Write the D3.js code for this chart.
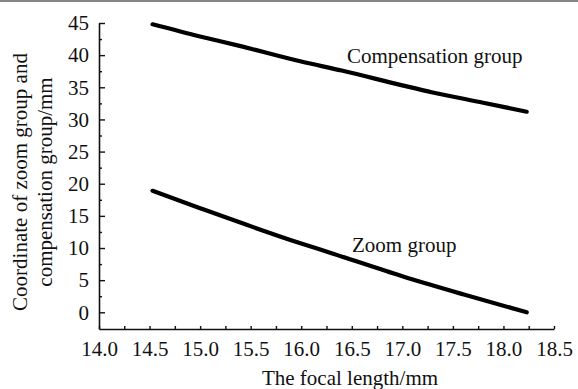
<!DOCTYPE html>
<html>
<head>
<meta charset="utf-8">
<script src="https://cdn.jsdelivr.net/npm/d3@7"></script>
<style>
  body { margin: 0; background: #fff; }
  svg text { font-family: "Liberation Serif", serif !important; fill: #111; }
</style>
</head>
<body>
<div id="chart"></div>
<script>
// focal length (mm) and coordinates
const compFocal = [14.53, 15.0, 15.4, 16.0, 16.4, 17.0, 17.3, 17.8, 18.23];
const compCoord = [44.8, 42.9, 41.4, 39.0, 37.6, 35.3, 34.2, 32.6, 31.2];
const zoomFocal = [14.53, 15.0, 15.3, 16.0, 16.3, 17.0, 17.6, 18.23];
const zoomCoord = [18.9, 16.2, 14.5, 10.7, 9.2, 5.6, 2.8, 0.0];

const xTicks = [14.0, 14.5, 15.0, 15.5, 16.0, 16.5, 17.0, 17.5, 18.0, 18.5];
const xMinor = [14.25, 14.75, 15.25, 15.75, 16.25, 16.75, 17.25, 17.75, 18.25];
const yTicks = [0, 5, 10, 15, 20, 25, 30, 35, 40, 45];
const yMinor = [2.5, 7.5, 12.5, 17.5, 22.5, 27.5, 32.5, 37.5, 42.5];

const width = 578, height = 389;
const plotLeft = 99, plotRight = 554, plotTop = 23, plotBottom = 329;

const svg = d3.select("#chart").append("svg")
    .attr("width", width)
    .attr("height", height);

// grey rule at the very top of the figure
svg.append("line")
    .attr("x1", 0).attr("x2", width)
    .attr("y1", 1).attr("y2", 1)
    .attr("stroke", "#858585")
    .attr("stroke-width", 2);

const x = d3.scaleLinear().domain([14.0, 18.5]).range([plotLeft, plotRight]);
const y = d3.scaleLinear()
    .domain([45 - (plotBottom - plotTop) / 6.429, 45])
    .range([plotBottom, plotTop]);

// x axis
const xAxis = svg.append("g")
    .attr("transform", `translate(0, ${plotBottom})`)
    .call(d3.axisBottom(x).tickValues(xTicks).tickFormat(d3.format(".1f"))
        .tickSizeInner(-3).tickSizeOuter(0).tickPadding(8));
svg.append("g")
    .attr("transform", `translate(0, ${plotBottom})`)
    .call(d3.axisBottom(x).tickValues(xMinor).tickFormat("")
        .tickSizeInner(-3).tickSizeOuter(0))
    .select(".domain").remove();

// y axis
const yAxis = svg.append("g")
    .attr("transform", `translate(${plotLeft}, 0)`)
    .call(d3.axisLeft(y).tickValues(yTicks)
        .tickSizeInner(-6).tickSizeOuter(0).tickPadding(10));
svg.append("g")
    .attr("transform", `translate(${plotLeft}, 0)`)
    .call(d3.axisLeft(y).tickValues(yMinor).tickFormat("")
        .tickSizeInner(-3).tickSizeOuter(0))
    .select(".domain").remove();

svg.selectAll("g").attr("font-family", null);
svg.selectAll(".domain").attr("stroke", "#111").attr("stroke-width", 1.6);
svg.selectAll(".tick line").attr("stroke", "#111").attr("stroke-width", 1.4);
svg.selectAll(".tick text")
    .style("font-size", "21px")
    .attr("fill", "#111");
xAxis.selectAll(".tick text").attr("dy", "0.9em");

// curves
const line = d3.line()
    .x(d => x(d[0]))
    .y(d => y(d[1]))
    .curve(d3.curveMonotoneX);

const series = [
    d3.zip(compFocal, compCoord),
    d3.zip(zoomFocal, zoomCoord)
];

svg.selectAll(".curve")
    .data(series)
    .enter()
    .append("path")
    .attr("class", "curve")
    .attr("d", line)
    .attr("fill", "none")
    .attr("stroke", "#000")
    .attr("stroke-width", 4.2)
    .attr("stroke-linecap", "round");

// curve labels
svg.append("text")
    .attr("x", 347).attr("y", 63)
    .style("font-size", "21px")
    .text("Compensation group");
svg.append("text")
    .attr("x", 352).attr("y", 252)
    .style("font-size", "21px")
    .text("Zoom group");

// axis titles
svg.append("text")
    .attr("x", 350).attr("y", 385)
    .attr("text-anchor", "middle")
    .style("font-size", "21px")
    .text("The focal length/mm");

const yTitle = svg.append("text")
    .attr("transform", "translate(0, 182) rotate(-90)")
    .attr("text-anchor", "middle")
    .style("font-size", "21px");
yTitle.append("tspan").attr("x", 0).attr("y", 27).text("Coordinate of zoom group and");
yTitle.append("tspan").attr("x", 0).attr("y", 52).text("compensation group/mm");
</script>
</body>
</html>
